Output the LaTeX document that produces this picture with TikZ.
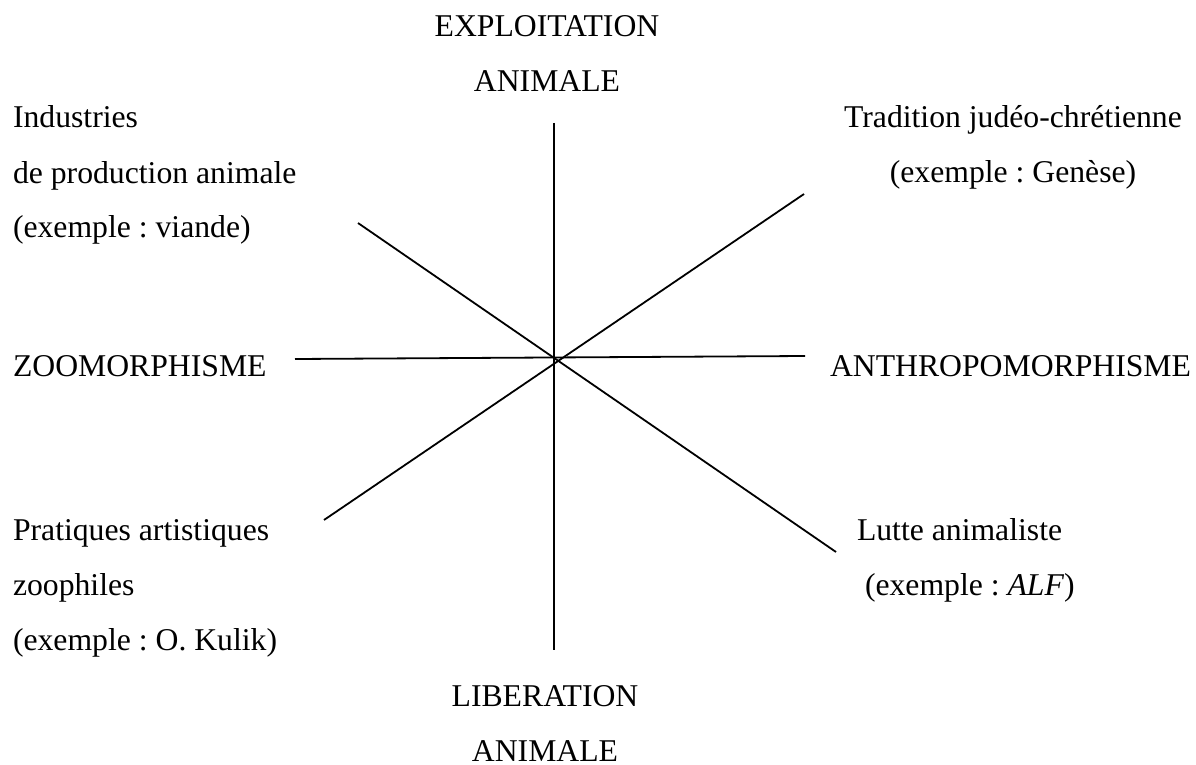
\documentclass[tikz,border=0pt]{standalone}
\usepackage{fontspec}
\setmainfont{Liberation Serif}
\begin{document}
\frenchspacing
\begin{tikzpicture}[x=0.5pt,y=-0.5pt,
  lbl/.style={inner sep=0pt,outer sep=0pt,font=\fontsize{15.85pt}{27.5pt}\selectfont\frenchspacing},
  axis/.style={line width=0.9pt,black}]
\useasboundingbox (0,0) rectangle (1196,765);
% labels (base anchor = baseline of the last line)
\node[lbl,anchor=base,align=center] (top) at (547,92) {EXPLOITATION\\ANIMALE};
\node[lbl,anchor=base west,align=left] (tl) at (13,238) {Industries\\de production animale\\(exemple : viande)};
\node[lbl,anchor=base,align=center] (tr) at (1013,183) {Tradition judéo-chrétienne\\(exemple : Genèse)};
\node[lbl,anchor=base west] (left) at (13,376) {ZOOMORPHISME};
\node[lbl,anchor=base west] (right) at (830,376) {ANTHROPOMORPHISME};
\node[lbl,anchor=base west,align=left] (bl) at (13,650) {Pratiques artistiques\\zoophiles\\(exemple : O. Kulik)};
\node[lbl,anchor=base west,align=left] (br) at (857,595) {Lutte animaliste\\\hspace*{4pt}(exemple : \textit{ALF})};
\node[lbl,anchor=base,align=center] (bot) at (545,761) {LIBERATION\\ANIMALE};
% axis ends
\coordinate (vN) at (554,123);
\coordinate (vS) at (554,650);
\coordinate (hW) at (295,359);
\coordinate (hE) at (805,356);
\coordinate (dNW) at (358,223);
\coordinate (dSE) at (836,552);
\coordinate (dNE) at (804,194);
\coordinate (dSW) at (324,520);
\draw[axis] (vN) -- (vS);
\draw[axis] (hW) -- (hE);
\draw[axis] (dNW) -- (dSE);
\draw[axis] (dNE) -- (dSW);
\end{tikzpicture}
\end{document}
